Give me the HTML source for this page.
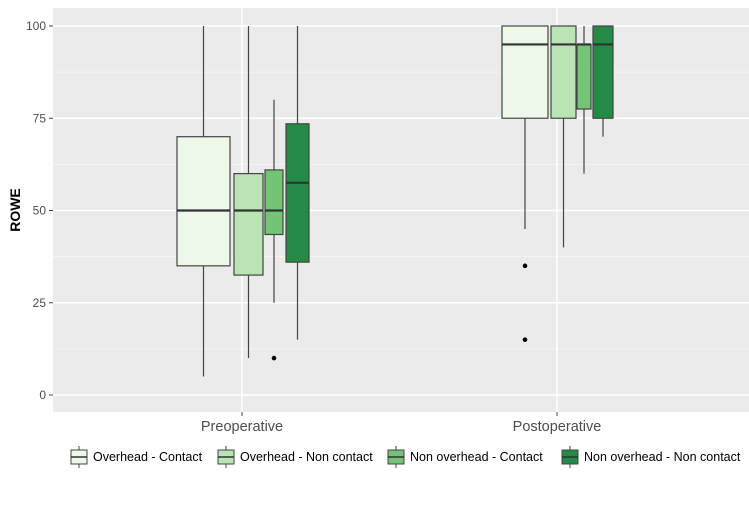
<!DOCTYPE html>
<html><head><meta charset="utf-8"><style>
body{margin:0;background:#fff;width:749px;height:500px;overflow:hidden;font-family:"Liberation Sans","DejaVu Sans",sans-serif}
</style></head><body>
<svg id="chart" width="749" height="500" xmlns="http://www.w3.org/2000/svg">
<rect x="53" y="8" width="696" height="404" fill="#ebebeb"/>
<g id="grid"></g>
<g id="boxes"></g>
<g id="axes"></g>
<text transform="translate(20,210) rotate(-90)" text-anchor="middle" font-size="14" font-weight="bold" fill="#000">ROWE</text>
<g id="legend"></g>
</svg>
<script>
const categories=["Preoperative","Postoperative"];
const groups=["Overhead - Contact","Overhead - Non contact","Non overhead - Contact","Non overhead - Non contact"];
const colors=["#edf8e9","#bae4b3","#74c476","#238b45"];
const yTicks=[0,25,50,75,100];
const lowWhisker=[[5,10,25,15],[45,40,60,70]];
const q1=[[35,32.5,43.5,36],[75,75,77.5,75]];
const median=[[50,50,50,57.5],[95,95,95,95]];
const q3=[[70,60,61,73.5],[100,100,95,100]];
const highWhisker=[[100,100,80,100],[100,100,100,100]];
const outliers=[[[],[],[10],[]],[[35,15],[],[],[]]];
const boxLeft=[[177,234,265,286],[502,551,577,593]];
const boxRight=[[230,263,283,309],[548,576,591,613]];
const NS="http://www.w3.org/2000/svg";
const y=v=>395-v*3.69;
const x=i=>242+i*315;
function mk(p,t,a){const e=document.createElementNS(NS,t);for(const k in a)e.setAttribute(k,a[k]);p.appendChild(e);return e;}
const grid=document.getElementById('grid'),axes=document.getElementById('axes'),boxes=document.getElementById('boxes'),legend=document.getElementById('legend');
for(let v=12.5;v<100;v+=25){const l=mk(grid,'line',{x1:53,x2:749,y1:y(v),y2:y(v),stroke:'#f4f4f4','stroke-width':1});

}
yTicks.forEach(v=>{const l=mk(grid,'line',{x1:53,x2:749,y1:y(v),y2:y(v),stroke:'#fff','stroke-width':1.5});


mk(axes,'line',{x1:49,x2:53,y1:y(v),y2:y(v),stroke:'#444'});
const t=mk(axes,'text',{x:46,y:y(v)+4,'text-anchor':'end','font-size':12,fill:'#4d4d4d'});t.textContent=v;

});
categories.forEach((c,i)=>{const l=mk(grid,'line',{x1:x(i),x2:x(i),y1:8,y2:412,stroke:'#fff','stroke-width':1.5});


mk(axes,'line',{x1:x(i),x2:x(i),y1:412,y2:416,stroke:'#444'});
const t=mk(axes,'text',{x:x(i),y:431,'text-anchor':'middle','font-size':14.5,fill:'#4d4d4d'});t.textContent=c;


groups.forEach((g,j)=>{const l0=boxLeft[i][j],r0=boxRight[i][j],cx=(l0+r0)/2;
const gg=mk(boxes,'g',{});


mk(gg,'line',{x1:cx,x2:cx,y1:y(highWhisker[i][j]),y2:y(lowWhisker[i][j]),stroke:'#444','stroke-width':1.2});
mk(gg,'rect',{x:l0,y:y(q3[i][j]),width:r0-l0,height:Math.max(y(q1[i][j])-y(q3[i][j]),0.5),fill:colors[j],stroke:'#444','stroke-width':1.2});
mk(gg,'line',{x1:l0,x2:r0,y1:y(median[i][j]),y2:y(median[i][j]),stroke:'#333','stroke-width':2.2});
outliers[i][j].forEach(o=>{const p=mk(gg,'circle',{cx:cx,cy:y(o),r:2.3,fill:'#000'});

});});});
const legX=[71,218,388,562];
groups.forEach((g,j)=>{const gg=mk(legend,'g',{});


const lx=legX[j];
mk(gg,'line',{x1:lx+8,x2:lx+8,y1:446,y2:468,stroke:'#444'});
mk(gg,'rect',{x:lx,y:450,width:16,height:14,fill:colors[j],stroke:'#444'});
mk(gg,'line',{x1:lx,x2:lx+16,y1:457,y2:457,stroke:'#333','stroke-width':1.5});
const t=mk(gg,'text',{x:lx+22,y:461,'font-size':12.5,fill:'#000'});t.textContent=g;});
</script>
</body></html>
